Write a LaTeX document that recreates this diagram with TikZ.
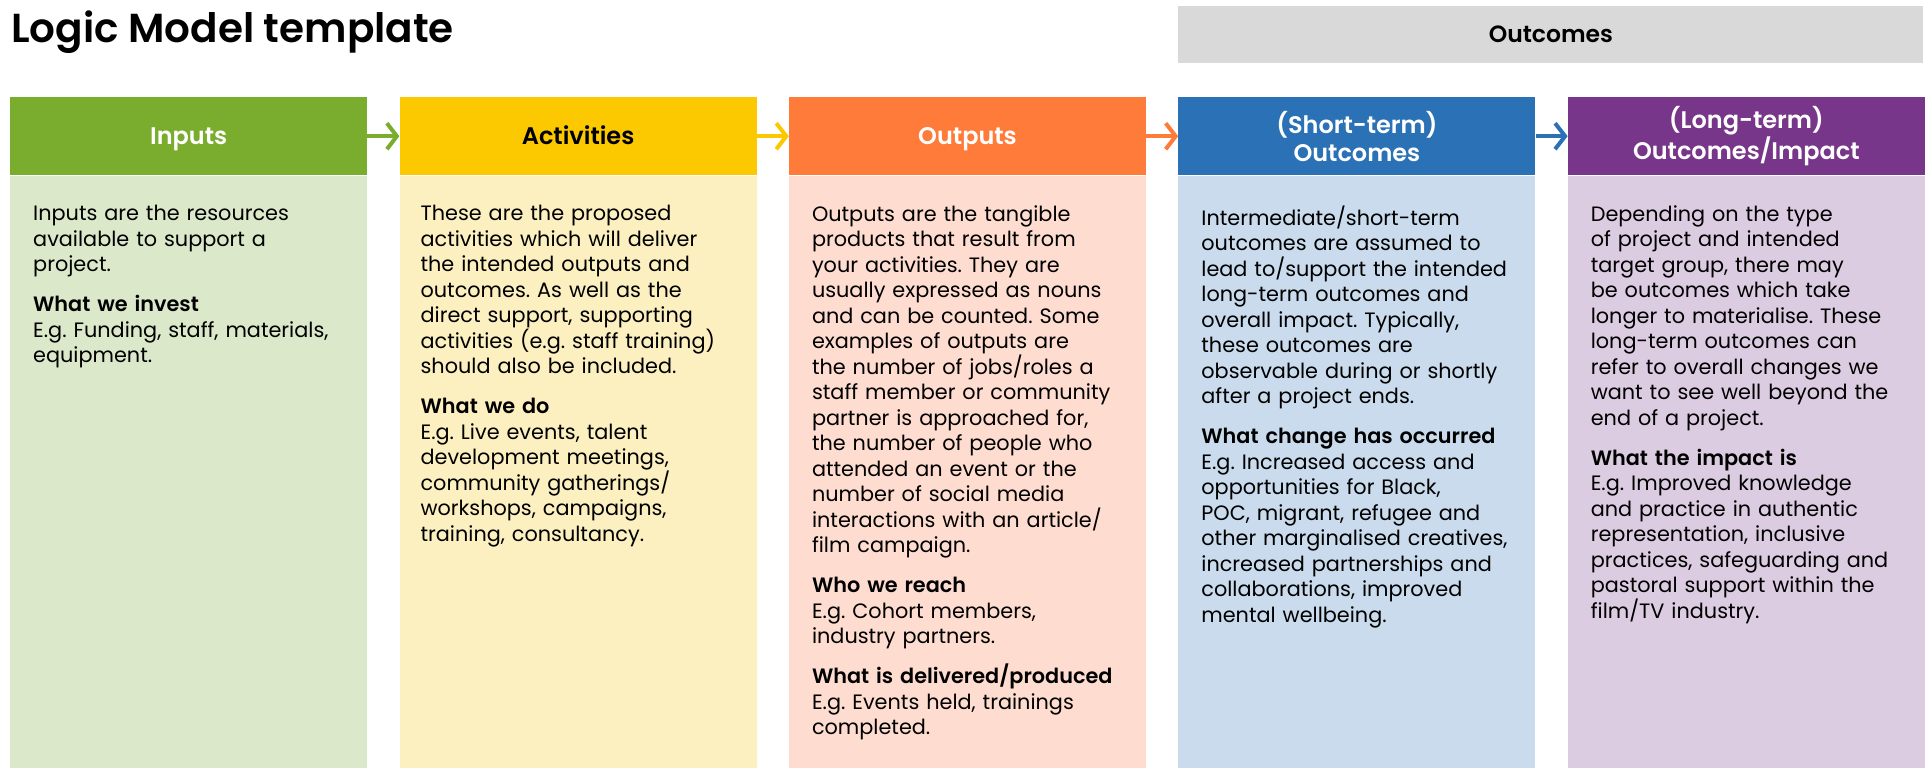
\documentclass[tikz,border=0pt]{standalone}
\usepackage{fontspec}
\setmainfont{Poppins}[BoldFont={Poppins SemiBold}]
\usepackage{xcolor}
\usepackage{tikz}
\usetikzlibrary{arrows.meta,positioning}
\frenchspacing

\definecolor{inGreen}{HTML}{7AAD2D}
\definecolor{inGreenL}{HTML}{DCE8CA}
\definecolor{actYellow}{HTML}{FCC800}
\definecolor{actYellowL}{HTML}{FCF0C0}
\definecolor{outOrange}{HTML}{FF7B3A}
\definecolor{outOrangeL}{HTML}{FEDDD0}
\definecolor{shortBlue}{HTML}{2A71B6}
\definecolor{shortBlueL}{HTML}{C9DBEC}
\definecolor{longPurple}{HTML}{773689}
\definecolor{longPurpleL}{HTML}{DCCCE1}
\definecolor{outGray}{HTML}{D9D9D9}

\begin{document}
\begin{tikzpicture}[
    x=1pt, y=1pt,
    node distance=32pt,
    headbox/.style={rectangle, minimum width=357pt, minimum height=78pt, inner sep=0pt, text=white, font=\fontsize{24}{28}\selectfont\bfseries},
    head/.style={headbox, align=center},
    headone/.style={headbox, text height=21.5pt, text depth=4.8pt},
    body/.style={rectangle, minimum width=357pt, minimum height=593pt, inner sep=0pt},
    txt/.style={inner sep=0pt, text width=330pt, align=left, font=\fontsize{20.8}{25.5}\selectfont},
    arrow/.style={line width=4pt, -{Straight Barb[length=10pt,width=26pt]}}
]
\useasboundingbox (0,0) rectangle (1930,-768);

% Title and outcomes banner
\node[anchor=base west, inner sep=0pt, font=\fontsize{40.5}{46}\selectfont\bfseries] (title) at (11,-43) {Logic Model template};

% Column headers
\node[headone, fill=inGreen, anchor=north west] (inputs) at (10,-97) {Inputs};
\node[headone, fill=actYellow, text=black, right=of inputs] (activities) {Activities};
\node[headone, fill=outOrange, right=of activities] (outputs) {Outputs};
\node[head, fill=shortBlue, right=of outputs] (shortterm) {(Short-term)\\Outcomes};
\node[head, fill=longPurple, right=of shortterm] (longterm) {(Long-term)\\Outcomes/Impact};

\node[rectangle, fill=outGray, anchor=south west, minimum width=745pt, minimum height=57pt, font=\fontsize{23.5}{28}\selectfont\bfseries] (outcomes) at ([yshift=34pt]shortterm.north west) {Outcomes};

% Column bodies
\node[body, fill=inGreenL, below=0pt of inputs] (inBody) {};
\node[body, fill=actYellowL, below=0pt of activities] (actBody) {};
\node[body, fill=outOrangeL, below=0pt of outputs] (outBody) {};
\node[body, fill=shortBlueL, below=0pt of shortterm] (shortBody) {};
\node[body, fill=longPurpleL, below=0pt of longterm] (longBody) {};

% Column texts
\node[txt, below right=30pt and 23pt of inBody.north west] (inTxt) {Inputs are the resources\\available to support a\\project.\\[14.5pt]
\textbf{What we invest}\\E.g. Funding, staff, materials,\\equipment.};
\node[txt, below right=30pt and 21pt of actBody.north west] (actTxt) {These are the proposed\\activities which will deliver\\the intended outputs and\\outcomes. As well as the\\direct support, supporting\\activities (e.g. staff training)\\should also be included.\\[14.5pt]
\textbf{What we do}\\E.g. Live events, talent\\development meetings,\\community gatherings/\\workshops, campaigns,\\training, consultancy.};
\node[txt, below right=30pt and 23pt of outBody.north west] (outTxt) {Outputs are the tangible\\products that result from\\your activities. They are\\usually expressed as nouns\\and can be counted. Some\\examples of outputs are\\the number of jobs/roles a\\staff member or community\\partner is approached for,\\the number of people who\\attended an event or the\\number of social media\\interactions with an article/\\film campaign.\\[14.5pt]
\textbf{Who we reach}\\E.g. Cohort members,\\industry partners.\\[14.5pt]
\textbf{What is delivered/produced}\\E.g. Events held, trainings\\completed.};
\node[txt, below right=30pt and 23pt of shortBody.north west] (shortTxt) {Intermediate/short-term\\outcomes are assumed to\\lead to/support the intended\\long-term outcomes and\\overall impact. Typically,\\these outcomes are\\observable during or shortly\\after a project ends.\\[14.5pt]
\textbf{What change has occurred}\\E.g. Increased access and\\opportunities for Black,\\POC, migrant, refugee and\\other marginalised creatives,\\increased partnerships and\\collaborations, improved\\mental wellbeing.};
\node[txt, below right=30pt and 23pt of longBody.north west] (longTxt) {Depending on the type\\of project and intended\\target group, there may\\be outcomes which take\\longer to materialise. These\\long-term outcomes can\\refer to overall changes we\\want to see well beyond the\\end of a project.\\[14.5pt]
\textbf{What the impact is}\\E.g. Improved knowledge\\and practice in authentic\\representation, inclusive\\practices, safeguarding and\\pastoral support within the\\film/TV industry.};

% Arrows
\draw[arrow, inGreen] (inputs) -- (activities);
\draw[arrow, actYellow] (activities) -- (outputs);
\draw[arrow, outOrange] (outputs) -- (shortterm);
\draw[arrow, shortBlue] (shortterm) -- (longterm);

\end{tikzpicture}
\end{document}
